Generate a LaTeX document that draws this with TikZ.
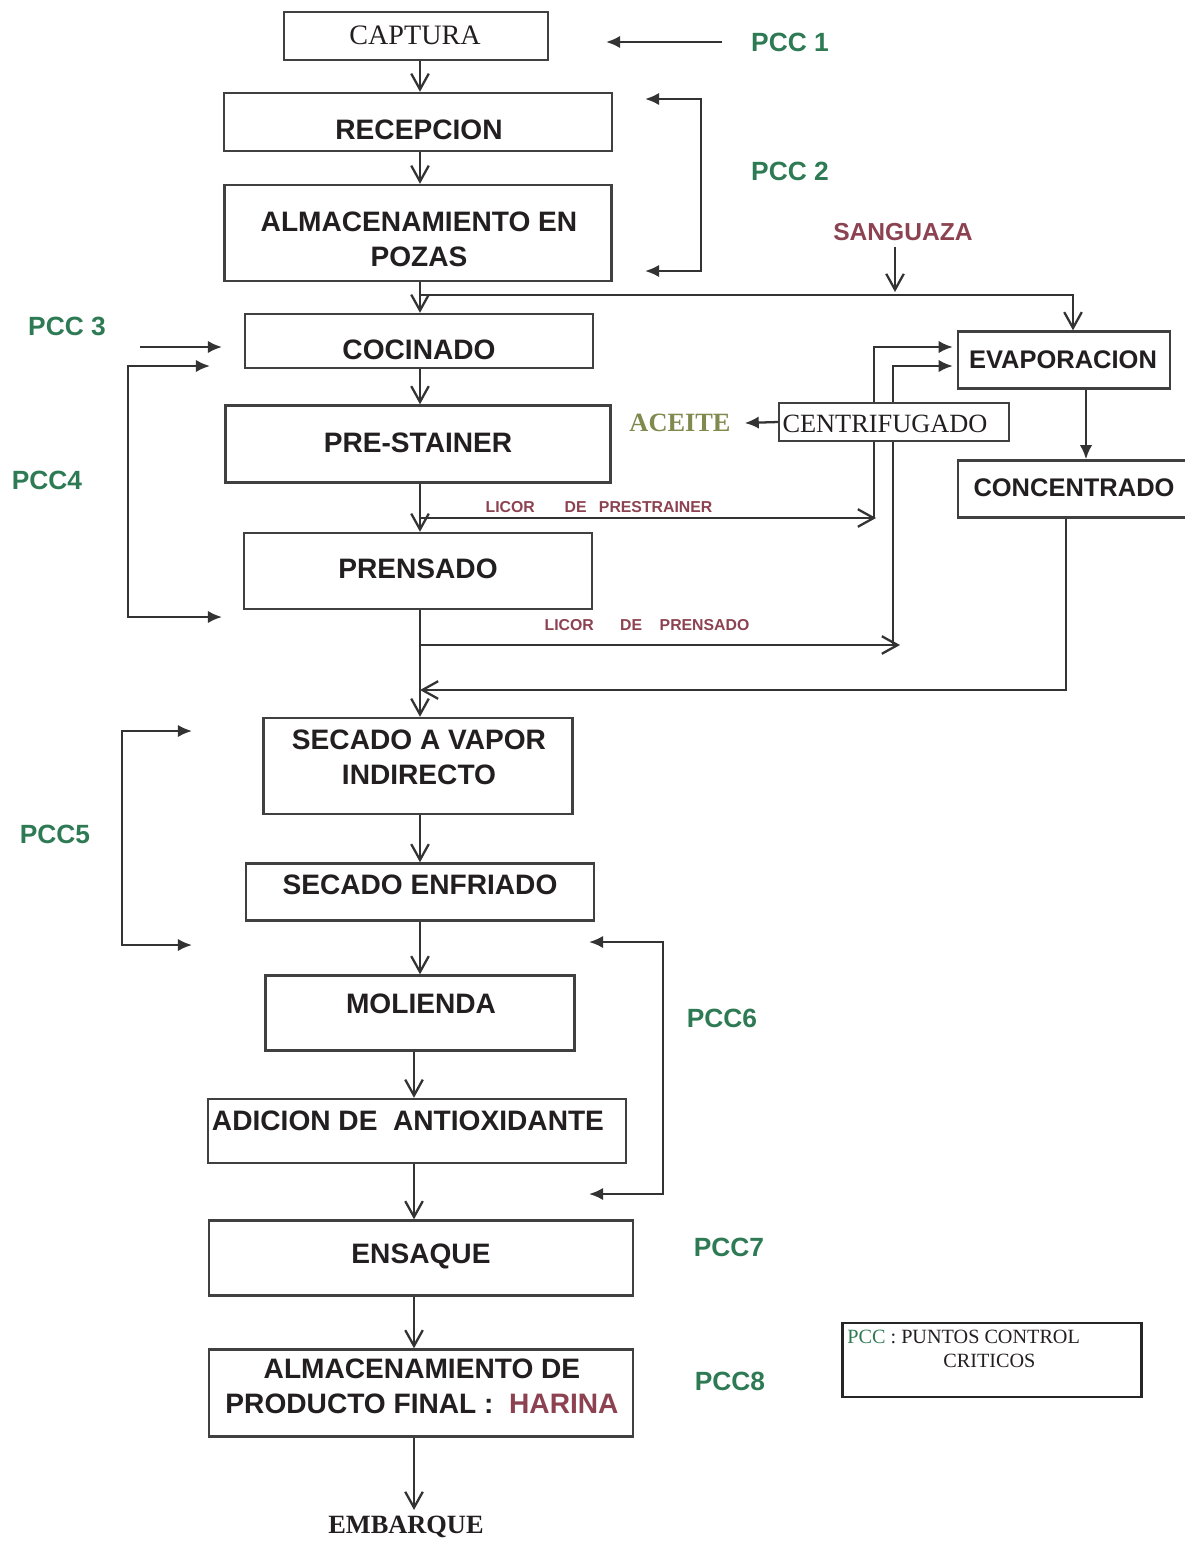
\documentclass[tikz,border=0pt]{standalone}
\usepackage{fontspec}
\setmainfont{Liberation Serif}
\setsansfont{Liberation Sans}
\usetikzlibrary{arrows.meta,calc}
\definecolor{verdepcc}{RGB}{45,122,84}
\definecolor{granate}{RGB}{140,66,80}
\definecolor{oliva}{RGB}{128,138,78}
\definecolor{tinta}{RGB}{35,31,32}
\tikzset{
  caja/.style={draw=black!75, line width=1.4pt, fill=white, inner sep=0pt},
  texto/.style={align=center, inner sep=0pt, font=\sffamily\bfseries\fontsize{16}{20}\selectfont, text=tinta},
  pcc/.style={font=\sffamily\bfseries\fontsize{15}{18}\selectfont, text=verdepcc},
  licor/.style={font=\sffamily\bfseries\fontsize{9}{11}\selectfont, text=granate},
  flecha/.style={draw=black!80, line width=1.3pt, -{Straight Barb[length=9pt,width=10pt]}},
  flechal/.style={draw=black!80, line width=1.3pt, -{Latex[length=8pt,width=7pt]}},
  doble/.style={draw=black!80, line width=1.3pt, {Latex[length=8pt,width=7pt]}-{Latex[length=8pt,width=7pt]}},
  linea/.style={draw=black!80, line width=1.3pt},
}
\begin{document}
\begin{tikzpicture}[x=0.02cm, y=-0.02cm]
  \useasboundingbox (0,0) rectangle (1184,1542);
  \coordinate (eje) at (420,0);
  \coordinate (eje2) at (414,0);
  % Etapas del proceso
  \node[caja, minimum width=5.28cm, minimum height=0.96cm] (captura) at (416,36) {};
  \node[caja, minimum width=7.76cm, minimum height=1.16cm] (recepcion) at (418,122) {};
  \node[caja, minimum width=7.74cm, minimum height=1.92cm] (pozas) at (418,233) {};
  \node[caja, minimum width=6.96cm, minimum height=1.08cm] (cocinado) at (419,341) {};
  \node[caja, minimum width=7.70cm, minimum height=1.54cm] (prestainer) at (418,444) {};
  \node[caja, minimum width=6.96cm, minimum height=1.52cm] (prensado) at (418,571) {};
  \node[caja, minimum width=6.18cm, minimum height=1.92cm] (secvapor) at (418,766) {};
  \node[caja, minimum width=6.96cm, minimum height=1.14cm] (secenf) at (420,892) {};
  \node[caja, minimum width=6.18cm, minimum height=1.50cm] (molienda) at (420,1013) {};
  \node[caja, minimum width=8.36cm, minimum height=1.28cm] (adicion) at (417,1131) {};
  \node[caja, minimum width=8.48cm, minimum height=1.50cm] (ensaque) at (421,1258) {};
  \node[caja, minimum width=8.48cm, minimum height=1.74cm] (almacfinal) at (421,1393) {};
  \node[texto, font=\rmfamily\fontsize{16}{20}\selectfont] (tcaptura) at (415,35) {CAPTURA};
  \node[texto] (trecepcion) at (419,130) {RECEPCION};
  \node[texto] (tpozas) at (419,239) {ALMACENAMIENTO EN\\POZAS};
  \node[texto] (tcocinado) at (419,350) {COCINADO};
  \node[texto] (tprestainer) at (418,443) {PRE-STAINER};
  \node[texto] (tprensado) at (418,569) {PRENSADO};
  \node[texto] (tsecvapor) at (419,757) {SECADO A VAPOR\\INDIRECTO};
  \node[texto] (tsecenf) at (420,885) {SECADO ENFRIADO};
  \node[texto] (tmolienda) at (421,1004) {MOLIENDA};
  \node[texto] (tadicion) at (408,1121) {ADICION DE\ \ ANTIOXIDANTE};
  \node[texto] (tensaque) at (421,1256) {ENSAQUE};
  \node[texto] (talmacfinal) at (422,1386) {ALMACENAMIENTO DE\\PRODUCTO FINAL :\ \ \textcolor{granate}{HARINA}};
  \node[font=\rmfamily\bfseries\fontsize{15}{18}\selectfont, text=tinta] (embarque) at (406,1527) {EMBARQUE};
  % Rama de sanguaza y licores
  \node[caja, minimum width=4.24cm, minimum height=1.14cm] (evaporacion) at (1064,360) {};
  \node[caja, minimum width=4.64cm, minimum height=1.14cm] (concentrado) at (1074,489) {};
  \node[caja, line width=1.1pt, minimum width=4.60cm, minimum height=0.76cm] (centrifugado) at (894,422) {};
  \node[texto, font=\sffamily\bfseries\fontsize{14.5}{18}\selectfont] (tevaporacion) at (1063,360) {EVAPORACION};
  \node[texto, font=\sffamily\bfseries\fontsize{14.5}{18}\selectfont] (tconcentrado) at (1074,488) {CONCENTRADO};
  \node[texto, font=\rmfamily\fontsize{15}{18}\selectfont] (tcentrifugado) at (885,424) {CENTRIFUGADO};
  \node[font=\rmfamily\bfseries\fontsize{15}{18}\selectfont, text=oliva] (aceite) at (680,423) {ACEITE};
  \node[font=\sffamily\bfseries\fontsize{14}{17}\selectfont, text=granate] (sanguaza) at (903,232) {SANGUAZA};
  \node[licor] (licorpre) at (599,507) {LICOR\hspace{17pt}DE\hspace{7pt}PRESTRAINER};
  \node[licor] (licorpren) at (647,625) {LICOR\hspace{15pt}DE\hspace{10pt}PRENSADO};
  % Puntos criticos
  \node[pcc] (pcc1) at (790,42) {PCC 1};
  \node[pcc] (pcc2) at (790,171) {PCC 2};
  \node[pcc] (pcc3) at (67,326) {PCC 3};
  \node[pcc] (pcc4) at (47,480) {PCC4};
  \node[pcc] (pcc5) at (55,834) {PCC5};
  \node[pcc] (pcc6) at (722,1018) {PCC6};
  \node[pcc] (pcc7) at (729,1247) {PCC7};
  \node[pcc] (pcc8) at (730,1381) {PCC8};
  % Leyenda
  \node[draw=black!85, line width=1.4pt, minimum width=5.98cm, minimum height=1.48cm] (leyenda) at (992,1360) {};
  \node[anchor=north west, align=left, inner sep=0pt, font=\rmfamily\fontsize{11.5}{13.5}\selectfont, text=tinta] (leyendatxt) at (847,1330)
    {\textcolor{verdepcc}{PCC} : PUNTOS CONTROL\\\hspace*{1.92cm}CRITICOS};
  % Flujo principal
  \draw[flecha] (captura.south -| eje) -- (recepcion.north -| eje);
  \draw[flecha] (recepcion.south -| eje) -- (pozas.north -| eje);
  \draw[flecha] (pozas.south -| eje) -- (cocinado.north -| eje);
  \draw[flecha] (cocinado.south -| eje) -- (prestainer.north -| eje);
  \draw[flecha] (prestainer.south -| eje) -- (prensado.north -| eje);
  \draw[flecha] (prensado.south -| eje) -- (secvapor.north -| eje);
  \draw[flecha] (secvapor.south -| eje) -- (secenf.north -| eje);
  \draw[flecha] (secenf.south -| eje) -- (molienda.north -| eje);
  \draw[flecha] (molienda.south -| eje2) -- (adicion.north -| eje2);
  \draw[flecha] (adicion.south -| eje2) -- (ensaque.north -| eje2);
  \draw[flecha] (ensaque.south -| eje2) -- (almacfinal.north -| eje2);
  \draw[flecha] (almacfinal.south -| eje2) -- (embarque.north -| eje2);
  % Sanguaza hacia evaporacion
  \coordinate (s1) at (420,295);
  \coordinate (s2) at (895,292);
  \draw[flecha] (s1) -| ($(evaporacion.north)+(9,0)$);
  \draw[flecha] (sanguaza.south -| s2) -- (s2);
  % Licores
  \coordinate (l1) at (420,518);
  \coordinate (l2) at (876,518);
  \coordinate (l3) at (420,645);
  \coordinate (l4) at (900,645);
  \draw[flecha] (l1) -- (l2);
  \draw[flecha] (l3) -- (l4);
  \draw[linea] (874,518) -- (centrifugado.south -| 874,0);
  \draw[flechal] (centrifugado.north -| 874,0) |- ($(evaporacion.west |- 0,347)+(-4,0)$);
  \draw[linea] (893,645) -- (centrifugado.south -| 893,0);
  \draw[flechal] (centrifugado.north -| 893,0) |- ($(evaporacion.west |- 0,366)+(-4,0)$);
  \draw[flechal] (centrifugado.west) -- ($(aceite.east)+(8,0)$);
  \draw[flechal] (evaporacion.south -| 1086,0) -- (concentrado.north -| 1086,0);
  \draw[flecha] (concentrado.south -| 1066,0) |- (eje |- 0,690);
  % Corchetes de control
  \coordinate (c1a) at (722,42);
  \coordinate (c1b) at (606,42);
  \draw[flechal] (c1a) -- (c1b);
  \draw[doble] (645,99) -- (701,99) -- (701,271) -- (645,271);
  \draw[flechal] (140,347) -- (222,347);
  \draw[doble] (210,366) -- (128,366) -- (128,617) -- (222,617);
  \draw[doble] (192,731) -- (122,731) -- (122,945) -- (192,945);
  \draw[doble] (589,942) -- (663,942) -- (663,1194) -- (589,1194);
\end{tikzpicture}
\end{document}
